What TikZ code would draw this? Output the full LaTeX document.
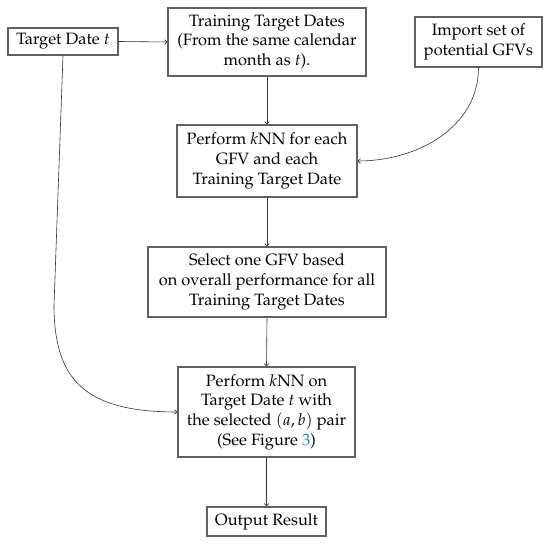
\documentclass[tikz,border=0pt]{standalone}
\usepackage[T1]{fontenc}
\usepackage{mathpazo}
\usetikzlibrary{arrows.meta}
\definecolor{boxgray}{gray}{0.38}
\definecolor{linkblue}{RGB}{30,130,200}
\begin{document}
\begin{tikzpicture}[x=1pt,y=1pt,
  every node/.style={font=\fontsize{16.4}{19.7}\selectfont},
  flowbox/.style={draw=boxgray, line width=1.3pt, fill=white, align=center, inner sep=0pt},
  conn/.style={draw=black!80, line width=0.6pt, -{To[length=3pt,width=5pt]}}]
\useasboundingbox (0,0) rectangle (550,545);
\node[flowbox, minimum width=110pt, minimum height=27pt] (td) at (63,503.5) {Target Date $t$};
\node[flowbox, minimum width=198pt, minimum height=68pt] (ttd) at (267,503) {Training Target Dates\\(From the same calendar\\month as $t$).};
\node[flowbox, minimum width=127pt, minimum height=50pt] (imp) at (478.5,503) {Import set of\\potential GFVs};
\node[flowbox, minimum width=180pt, minimum height=72pt] (knna) at (267,384) {Perform $k$NN for each\\GFV and each\\Training Target Date};
\node[flowbox, minimum width=238pt, minimum height=70pt] (sel) at (267,263) {Select one GFV based\\on overall performance for all\\Training Target Dates};
\node[flowbox, minimum width=177pt, minimum height=90pt] (knnb) at (266.5,133) {Perform $k$NN on\\Target Date $t$ with\\the selected $(a,b)$ pair\\(See Figure \textcolor{linkblue}{3})};
\node[flowbox, minimum width=119pt, minimum height=29pt] (res) at (266.5,23.5) {Output Result};
\coordinate (bend) at (54,240);
\draw[conn] (td.east) -- (ttd.west);
\draw[conn] (ttd.south) -- (knna.north);
\draw[conn] (imp.south) to[out=-90,in=0] (knna.east);
\draw[conn] (knna.south) -- (sel.north);
\draw[conn] (sel.south) -- (knnb.north);
\draw[conn] (knnb.south) -- (res.north);
\draw[conn] (td.south) -- (bend) .. controls (54,165) and (85,133) .. (knnb.west);
\end{tikzpicture}
\end{document}
